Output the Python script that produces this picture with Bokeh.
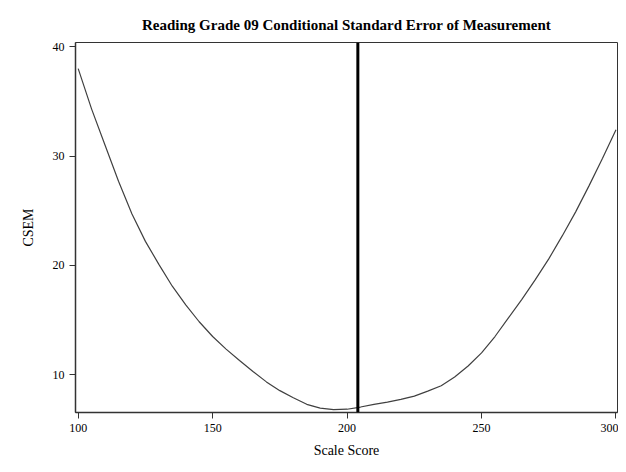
from bokeh.plotting import figure
from bokeh.models import Range1d, FixedTicker, Span
from bokeh.embed import file_html
from bokeh.resources import INLINE

# Data
scale_score = [100, 105, 110, 115, 120, 125, 130, 135, 140, 145, 150, 155, 160, 165, 170,
               175, 180, 185, 190, 195, 200, 205, 210, 215, 220, 225, 230, 235, 240, 245,
               250, 255, 260, 265, 270, 275, 280, 285, 290, 295, 300]
csem = [38.0, 34.3, 31.0, 27.7, 24.7, 22.2, 20.1, 18.1, 16.4, 14.85, 13.5, 12.35, 11.3,
        10.3, 9.35, 8.55, 7.9, 7.3, 6.95, 6.82, 6.85, 7.05, 7.3, 7.5, 7.75, 8.05, 8.5,
        9.0, 9.8, 10.8, 12.0, 13.5, 15.2, 16.9, 18.7, 20.6, 22.7, 24.9, 27.3, 29.8, 32.4]
cut_score = 204
x_ticks = [100, 150, 200, 250, 300]
y_ticks = [10, 20, 30, 40]

p = figure(width=618, height=464, frame_width=542, frame_height=370,
           output_backend="svg", toolbar_location=None,
           x_range=Range1d(99.0, 300.56), y_range=Range1d(6.55, 40.39),
           min_border_left=75, min_border_right=1, min_border_top=42, min_border_bottom=52,
           title="Reading Grade 09 Conditional Standard Error of Measurement")

p.title.align = "center"
p.title.text_font = "Liberation Serif"
p.title.text_font_size = "15px"
p.title.text_font_style = "bold"
p.title.text_color = "#000000"
p.title.standoff = 19

p.grid.visible = False
p.background_fill_color = "white"
p.border_fill_color = "white"
p.outline_line_color = "#333333"
p.outline_line_width = 1

for ax in (p.xaxis[0], p.yaxis[0]):
    ax.axis_line_color = "#333333"
    ax.axis_line_width = 1.5
    ax.major_tick_line_color = "#333333"
    ax.major_tick_in = 0
    ax.major_tick_out = 6
    ax.minor_tick_line_color = None
    ax.major_label_text_font = "Liberation Serif"
    ax.major_label_text_font_size = "12px"
    ax.major_label_text_color = "#000000"
    ax.axis_label_text_font = "Liberation Serif"
    ax.axis_label_text_font_size = "14px"
    ax.axis_label_text_font_style = "normal"
    ax.axis_label_text_color = "#000000"
    ax.major_label_standoff = 5

p.xaxis[0].ticker = FixedTicker(ticks=x_ticks)
p.yaxis[0].ticker = FixedTicker(ticks=y_ticks)
p.xaxis[0].axis_label = "Scale Score"
p.yaxis[0].axis_label = "CSEM"
p.xaxis[0].axis_label_standoff = 8
p.yaxis[0].axis_label_standoff = 14

p.line(scale_score, csem, line_color="#404040", line_width=1.2)
p.add_layout(Span(location=cut_score, dimension="height", line_color="#000000", line_width=3))

open("out.html", "w").write(file_html(p, INLINE))
